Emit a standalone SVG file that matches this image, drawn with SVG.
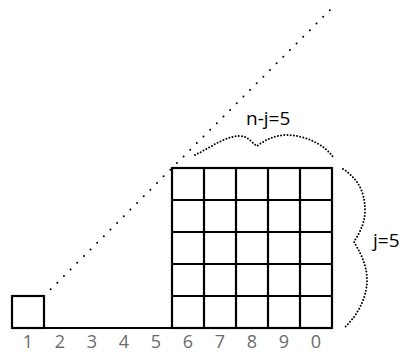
<svg xmlns="http://www.w3.org/2000/svg" width="402" height="356" viewBox="0 0 402 356">
<style>
.g{fill:none;stroke:#000;stroke-width:2.2}
.d{fill:none;stroke:#000;stroke-linecap:round}
.num{font-family:"Open Sans",sans-serif;font-size:18px;fill:#6b6b6b;text-anchor:middle}
.lbl{font-family:"Open Sans",sans-serif;font-size:19px;fill:#000}
</style>
<rect width="402" height="356" fill="#fff"/>
<g id="connectors">
<path class="d" stroke-width="2" stroke-dasharray="0 9.4" d="M44,296 L332,8"/>
<path class="d" stroke-width="2" stroke-dasharray="0 3.2" d="M195,155 C210,148 225,136 240,136 C248,136 252,143 257,146 C265,140 275,135 287,135 C305,135 325,145 333,157"/>
<path class="d" stroke-width="2" stroke-dasharray="0 3.2" d="M343,169 C360,180 365,195 365,210 C365,225 358,235 354,242 C360,252 367,265 367,280 C367,300 355,318 345,327"/>
</g>
<g id="small-square">
<rect class="g" x="12" y="296" width="32" height="32"/>
</g>
<g id="baseline">
<path class="g" d="M12,328 H332"/>
</g>
<g id="grid">
<rect class="g" x="172" y="168" width="160" height="160"/>
<path class="g" d="M204,168V328M236,168V328M268,168V328M300,168V328M172,200H332M172,232H332M172,264H332M172,296H332"/>
</g>
<g id="numbers">
<text class="num" x="28" y="348">1</text>
<text class="num" x="60" y="348">2</text>
<text class="num" x="92" y="348">3</text>
<text class="num" x="124" y="348">4</text>
<text class="num" x="156" y="348">5</text>
<text class="num" x="188" y="348">6</text>
<text class="num" x="220" y="348">7</text>
<text class="num" x="252" y="348">8</text>
<text class="num" x="284" y="348">9</text>
<text class="num" x="316" y="348">0</text>
</g>
<g id="label-nj">
<text class="lbl" x="246" y="125">n-j=5</text>
</g>
<g id="label-j">
<text class="lbl" x="373" y="247">j=5</text>
</g>
</svg>
